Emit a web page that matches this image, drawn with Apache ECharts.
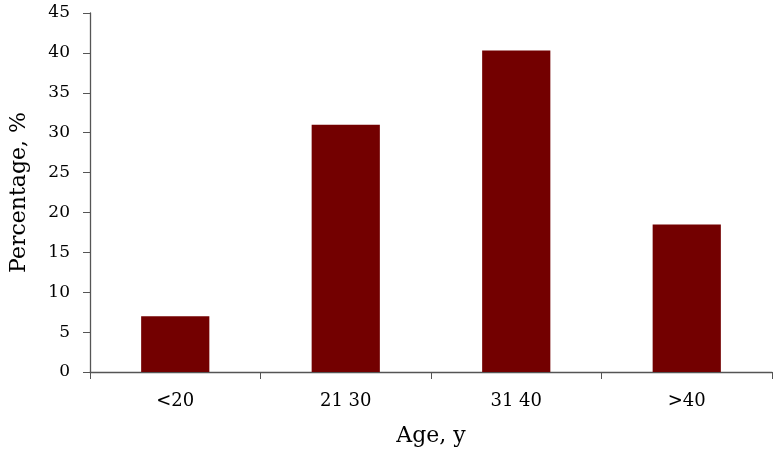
<!DOCTYPE html>
<html><head><meta charset="utf-8">
<script src="https://cdn.jsdelivr.net/npm/echarts@6/dist/echarts.min.js"></script>
<style>html,body{margin:0;padding:0;background:#fff}#c{width:773px;height:468px}</style>
</head><body><div id="c"></div>
<script>
const categories = ["<20", "21 30", "31 40", ">40"];
const values = [7.0, 31.0, 40.3, 18.5];
const yTicks = {min: 0, max: 45, interval: 5};

const font = "'DejaVu Serif', 'Liberation Serif', serif";
const axisColor = '#555555';
const chart = echarts.init(document.getElementById('c'));
chart.setOption({
  animation: false,
  grid: {left: 87, right: 1, top: 13, bottom: 96, containLabel: false},
  xAxis: {
    type: 'category', data: categories,
    name: 'Age, y', nameLocation: 'middle', nameGap: 53,
    nameTextStyle: {fontFamily: font, fontSize: 22, color: '#000'},
    axisLine: {lineStyle: {color: axisColor, width: 1.3}},
    axisTick: {show: true, length: 7, lineStyle: {color: axisColor}},
    axisLabel: {fontFamily: font, fontSize: 18, color: '#000', margin: 20}
  },
  yAxis: {
    type: 'value', min: yTicks.min, max: yTicks.max, interval: yTicks.interval,
    name: 'Percentage, %', nameLocation: 'middle', nameGap: 60, nameRotate: 90,
    nameTextStyle: {fontFamily: font, fontSize: 22, color: '#000'},
    axisLine: {show: true, lineStyle: {color: axisColor, width: 1.3}},
    axisTick: {show: true, length: 7, lineStyle: {color: axisColor}},
    splitLine: {show: false},
    axisLabel: {fontFamily: font, fontSize: 17, color: '#000', margin: 20}
  },
  series: [{
    type: 'bar', data: values, barWidth: '40%',
    itemStyle: {color: '#730000'}
  }]
});
</script></body></html>
